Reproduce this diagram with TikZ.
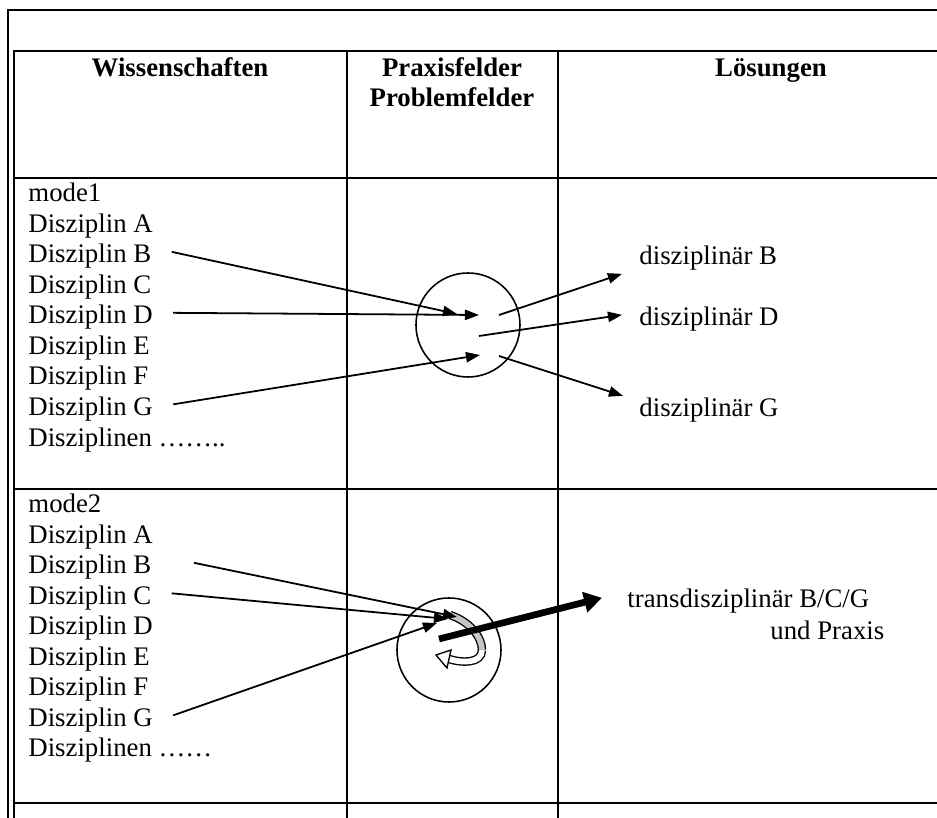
\documentclass[tikz,border=0pt]{standalone}
\usepackage{fontspec}
\setmainfont{Liberation Serif}
\usetikzlibrary{
  arrows.meta, positioning, calc
}

\begin{document}
\begin{tikzpicture}[x=0.448pt, y=-0.448pt,
    grid/.style={line width=0.7pt},
    txt/.style={anchor=base west, inner sep=0pt, font=\fontsize{12}{14}\selectfont},
    dis/.style={txt, text height=10pt, text depth=0pt},
    head/.style={txt, anchor=base, font=\fontsize{12}{14}\selectfont\bfseries},
    ring/.style={draw, circle, minimum size=46.6pt, inner sep=0pt, line width=0.7pt},
    flow/.style={line width=0.8pt, -{Triangle[length=6.3pt, width=4.6pt]}},
    band/.style={line width=0.6pt, double distance=2.6pt}]
    \useasboundingbox (0,0) rectangle (937,818);

    % frame and table
    \draw[line width=0.9pt] (8,818) -- (8,10) -- (937,10);
    \draw[line width=0.9pt] (14,818) -- (14,51) -- (937,51);
    \foreach \y in {178,489,803} \draw[grid] (14,\y) -- (937,\y);
    \foreach \x in {347,558} \draw[grid] (\x,51) -- (\x,818);

    \node[head] (hWiss) at (180,77) {Wissenschaften};
    \node[head] (hPrax) at (452,77) {Praxisfelder};
    \node[head] (hProb) at (452,107) {Problemfelder};
    \node[head] (hLoes) at (771,77) {Lösungen};

    % mode1
    \node[txt] (mA) at (28,202) {mode1};
    \foreach \l [count=\i] in {A,B,C,D,E,F,G}
      \node[dis] (a\l) at (28,{202+30.5*\i}) {Disziplin \l};
    \node[txt] (aN) at (28,446.5) {Disziplinen ……..};

    \node[ring] (c1) at (468,325) {};
    \node[dis] (lB) at (639,265) {disziplinär B};
    \node[dis] (lD) at (639,326) {disziplinär D};
    \node[dis] (lG) at (639,417) {disziplinär G};

    \draw[flow] ([xshift=9pt]aB.east) -- ($(c1)+(-11,-11)$);
    \draw[flow] ([xshift=9pt]aD.east) -- ($(c1)+(11,-10)$);
    \draw[flow] ([xshift=9pt]aG.east) -- ($(c1)+(12,30)$);
    \draw[flow] ($(c1)+(31,-10)$) -- ($(lB.west)+(-17,20)$);
    \draw[flow] ($(c1)+(11,11)$) -- ($(lD.west)+(-17,0)$);
    \draw[flow] ($(c1)+(31,31)$) -- ($(lG.west)+(-16,-10)$);

    % mode2
    \node[txt] (mB) at (28,513) {mode2};
    \foreach \l [count=\i] in {A,B,C,D,E,F,G}
      \node[dis] (b\l) at (28,{513+30.5*\i}) {Disziplin \l};
    \node[txt] (bN) at (28,757) {Disziplinen ……};

    \node[ring] (c2) at (449,650) {};
    \node[dis] (lT) at (627,608) {transdisziplinär B/C/G};
    \node[txt] (lU) at (770,640) {und Praxis};

    \draw[band, double=gray!45] ($(c2)+(1,-35)$) .. controls ($(c2)+(22,-28)$) and ($(c2)+(33,-12)$) .. ($(c2)+(33,0)$);
    \draw[band, double=white] ($(c2)+(33,0)$) .. controls ($(c2)+(33,14)$) and ($(c2)+(12,13)$) .. ($(c2)+(0,9)$);
    \draw[line width=0.6pt, fill=white] ($(c2)+(2,0)$) -- ($(c2)+(-13,5)$) -- ($(c2)+(-2,18)$) -- cycle;

    \draw[flow] ([xshift=19pt]bB.east) -- ($(c2)+(8,-33)$);
    \draw[flow] ([xshift=9pt]bC.east) -- ($(c2)+(-1,-31)$);
    \draw[flow] ([xshift=9pt]bG.east) -- ($(c2)+(-12,-27)$);
    \draw[line width=3pt, -{Triangle[length=8pt, width=9pt]}] ($(c2)+(-10,-11)$) -- ($(lT.west)+(-25,1)$);
  \end{tikzpicture}
\end{document}
